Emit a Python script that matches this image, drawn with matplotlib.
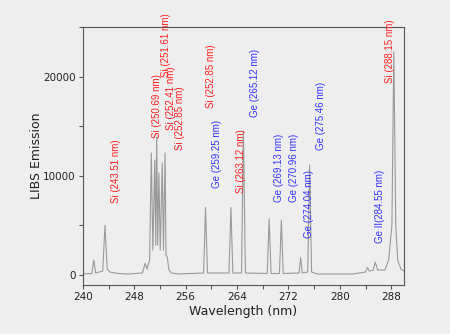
import numpy as np
import matplotlib
matplotlib.use("Agg")
import matplotlib.pyplot as plt
from matplotlib.ticker import MultipleLocator

# spectrum vertices (nm, counts)
wavelength = [240.0, 241.4, 241.7, 242.0, 243.1, 243.45, 243.8, 244.2, 244.6, 245.5,
              247.0, 249.3, 249.7, 250.0, 250.4, 250.66, 250.9, 251.2, 251.35, 251.5,
              251.65, 251.84, 252.05, 252.36, 252.55, 252.8, 252.95, 253.15, 253.4, 253.8,
              255.0, 258.8, 259.1, 259.4, 262.75, 263.05, 263.35, 264.7, 265.0, 265.3,
              268.7, 269.0, 269.3, 270.6, 270.9, 271.2, 273.65, 273.9, 274.15, 275.0,
              275.3, 275.6, 276.5, 282.0, 284.0, 284.3, 284.6, 285.2, 285.5, 285.9,
              287.0, 287.6, 288.1, 288.4, 288.7, 289.0, 289.5, 290.0]
emission = [100, 150, 1500, 200, 400, 5000, 600, 300, 250, 150,
            100, 200, 1200, 600, 1500, 12300, 2500, 11600, 3000, 13900,
            3000, 10300, 2500, 11300, 2500, 12300, 2000, 1800, 500, 200,
            100, 200, 6800, 200, 200, 6800, 200, 200, 14500, 200,
            150, 5650, 150, 150, 5500, 150, 200, 1750, 200, 300,
            11100, 300, 100, 100, 300, 750, 400, 500, 1300, 500,
            500, 1500, 5000, 22500, 5000, 1500, 600, 400]

# line labels: text, colour, x (nm), bottom of text (counts)
label_text = ["Si (243.51 nm)", "Si (250.69 nm)", "Si (251.61 nm)", "Si (252.41 nm)",
              "Si (252.85 nm)", "Si (252.85 nm)", "Ge (259.25 nm)", "Si (263.12 nm)",
              "Ge (265.12 nm)", "Ge (269.13 nm)", "Ge (270.96 nm)", "Ge (274.04 nm)",
              "Ge (275.46 nm)", "Ge II(284.55 nm)", "Si (288.15 nm)"]
label_color = ["r", "r", "r", "r", "r", "r", "b", "r", "b", "b", "b", "b", "b", "b", "r"]
label_x = [245.1, 251.6, 252.9, 253.7, 255.1, 259.9, 260.9, 264.6, 266.8, 270.5,
           272.9, 275.2, 277.0, 286.2, 287.8]
label_y = [7270, 13840, 20000, 14650, 12600, 16870, 8790, 8280, 15960, 7370,
           7370, 3740, 12630, 3230, 19400]

colors = {"r": "#ff2020", "b": "#3333ff"}
bg = "#eeeeee"

fig = plt.figure(figsize=(4.5, 3.34), dpi=100, facecolor=bg)
ax = fig.add_axes([0.184, 0.147, 0.714, 0.772], facecolor=bg)

ax.plot(wavelength, emission, color="#999999", lw=0.8)

for t, c, x, y in zip(label_text, label_color, label_x, label_y):
    ax.text(x, y, t, rotation=90, ha="center", va="bottom", color=colors[c],
            fontsize=7, family="Liberation Sans", clip_on=False)

ax.set_xlim(240, 290)
ax.set_ylim(-1000, 25000)
ax.xaxis.set_major_locator(MultipleLocator(8))
ax.xaxis.set_minor_locator(MultipleLocator(4))
ax.yaxis.set_major_locator(MultipleLocator(10000))
ax.yaxis.set_minor_locator(MultipleLocator(5000))
ax.tick_params(which="both", direction="out", length=3, width=0.8, color="#555555",
               labelsize=7.5, labelcolor="#222222", pad=2)
ax.tick_params(top=False, right=False, which="both")
for s in ax.spines.values():
    s.set_color("#555555")
    s.set_linewidth(0.8)

ax.set_xlabel("Wavelength (nm)", fontsize=9, color="#222222", labelpad=2)
ax.set_ylabel("LIBS Emission", fontsize=9, color="#222222", labelpad=0)

fig.savefig("out.png", dpi=100, facecolor=bg)
